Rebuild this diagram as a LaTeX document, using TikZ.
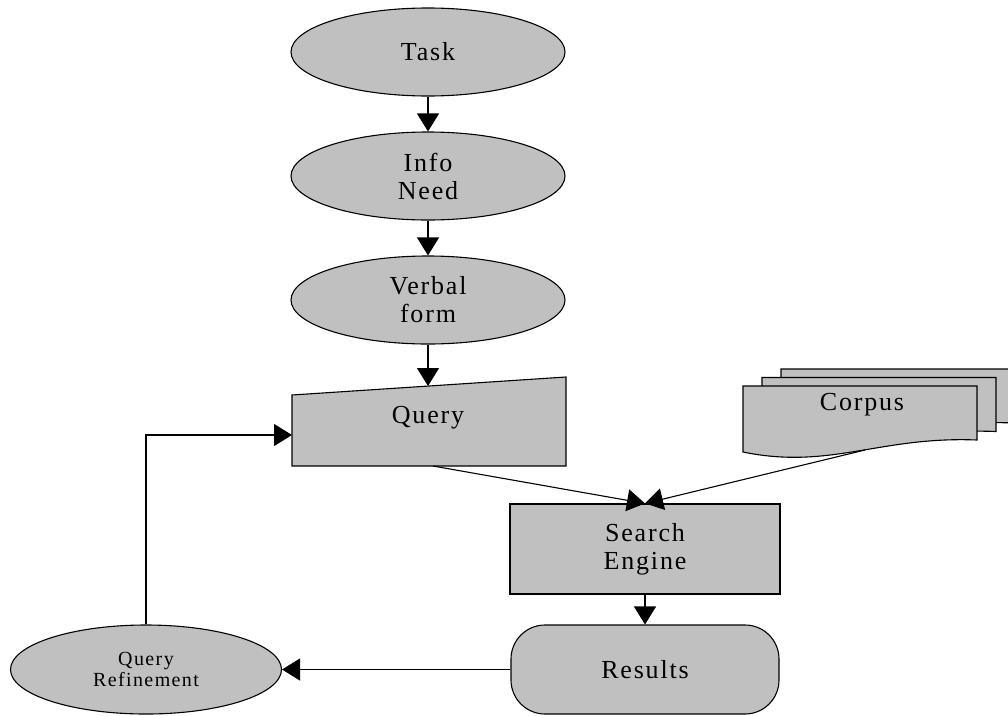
\documentclass[tikz,border=0pt]{standalone}
\usepackage{fontspec}
\newfontfamily\diafont[LetterSpace=7]{Liberation Serif}
\usetikzlibrary{shapes.geometric,arrows.meta}
\definecolor{shade}{HTML}{C0C0C0}
\tikzset{
  base/.style={draw,fill=shade,line width=1.1pt,inner sep=0pt,align=center,
    font={\diafont\fontsize{26}{28}\selectfont}},
  oval/.style={base,ellipse,minimum width=274pt,minimum height=88pt},
  box/.style={base,rectangle,minimum width=270pt,minimum height=90pt},
  pill/.style={base,rectangle,rounded corners=34pt,minimum width=268pt,minimum height=89pt},
  page/.style={draw,fill=shade,line width=1.1pt},
  arr/.style={line width=1.1pt,-{Triangle[width=22pt,length=18pt]}}
}
\begin{document}
\begin{tikzpicture}[x=1pt,y=-1pt]
\useasboundingbox (0,0) rectangle (1008,715);
% chain of ovals
\node[oval] (task) at (428,52) {Task};
\node[oval] (need) at (428,176) {Info\\Need};
\node[oval] (verbal) at (428,300) {Verbal\\form};
% query, manual input
\filldraw[page] (292,395)--(566,377)--(566,466)--(292,466)--cycle;
\node[base,draw=none,fill=none] (query) at (428,418) {Query};
\coordinate (qin) at (428,386);
\coordinate (qleft) at (292,435);
\coordinate (qout) at (433,466);
% corpus, stacked pages
\foreach \k in {2,1,0} {
  \filldraw[page,shift={(19*\k,-8.5*\k)}] (743,386)--(977,386)--(977,440)
    .. controls (880,436) and (830,470) .. (743,452)--cycle;
};
\node[base,draw=none,fill=none] (corpus) at (862,405) {Corpus};
\coordinate (cout) at (865,450);
% engine and results
\node[box] (engine) at (645,549) {Search\\Engine};
\node[pill] (results) at (645,669.5) {Results};
\node[oval,minimum width=271pt,minimum height=89pt,
  font={\diafont\fontsize{20}{21}\selectfont}] (qref) at (146,669.5) {Query\\Refinement};
% connectors
\draw[arr] (task) -- (need);
\draw[arr] (need) -- (verbal);
\draw[arr] (verbal) -- (qin);
\draw[arr] (qout) -- (engine.north);
\draw[arr] (cout) -- (engine.north);
\draw[arr] (engine) -- (results);
\draw[arr] (results) -- (qref);
\draw[arr] (qref.north) |- (qleft);
\end{tikzpicture}
\end{document}
